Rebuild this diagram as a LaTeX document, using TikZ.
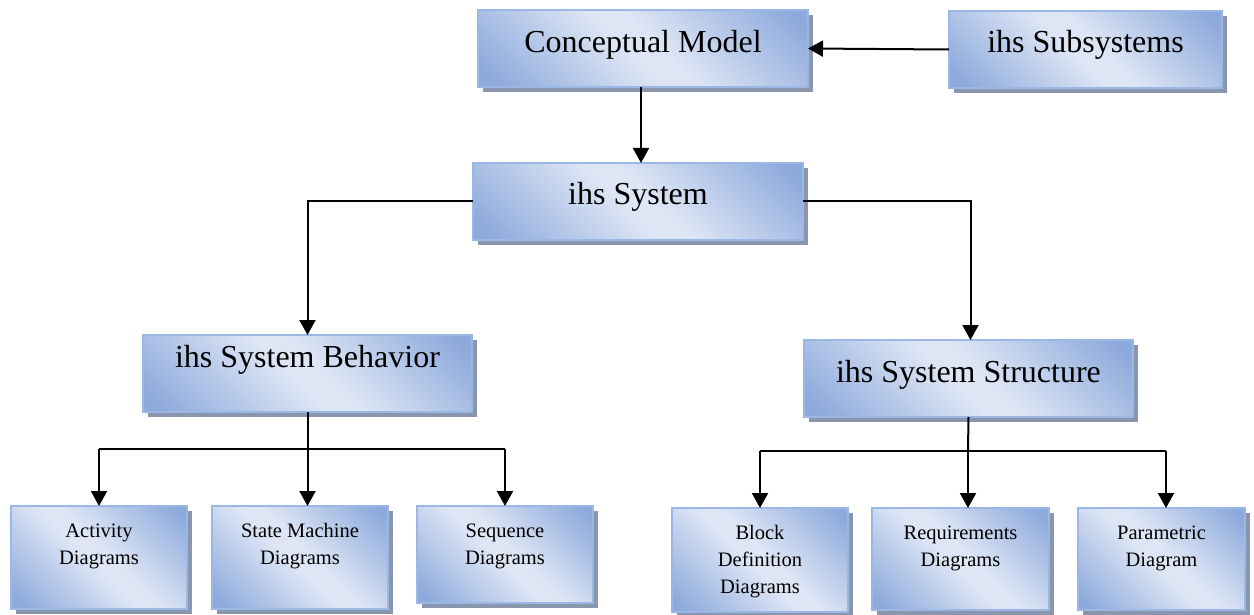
\documentclass[tikz,border=0pt]{standalone}
\usepackage{fontspec}
\setmainfont{Liberation Serif}
\usetikzlibrary{arrows.meta,shadows}

\definecolor{boxdark}{RGB}{141,170,220}
\definecolor{boxlight}{RGB}{222,230,245}
\definecolor{boxedge}{RGB}{155,184,228}
\definecolor{boxshadow}{RGB}{138,150,174}

% diagonal dark-light-dark fill of the blocks
\pgfdeclarehorizontalshading{boxshade}{100bp}{color(0bp)=(boxdark); color(18bp)=(boxdark); color(47bp)=(boxlight); color(53bp)=(boxlight); color(82bp)=(boxdark); color(100bp)=(boxdark)}

\newcommand\bigtxt{\fontsize{32}{38}\selectfont}
\newcommand\smalltxt{\fontsize{20.5}{27}\selectfont}
% width, height, first baseline from top, font, text
\newcommand\boxlabel[5]{\parbox[c][#2][t]{#1}{\centering#4\rule{0pt}{#3}#5\par}}

\tikzset{
  blk/.style={draw=boxedge, line width=1.2pt, shading=boxshade, shading angle=45,
    inner sep=0pt, outer sep=0pt,
    drop shadow={shadow xshift=5pt, shadow yshift=-5pt, fill=boxshadow, opacity=1}},
  conn/.style={line width=2pt, draw=black},
  arr/.style={conn, -{Triangle[width=16pt,length=15pt]}},
}

\begin{document}
\begin{tikzpicture}[x=1pt,y=-1pt]
\useasboundingbox (0,0) rectangle (1254,615);

% upper levels
\node[blk] (cm)  at (643,48.5)   {\boxlabel{330pt}{77pt}{43pt}{\bigtxt}{Conceptual Model}};
\node[blk] (sub) at (1085.5,49.5) {\boxlabel{273pt}{77pt}{42pt}{\bigtxt}{ihs Subsystems}};
\node[blk] (sys) at (638,201.5)  {\boxlabel{330pt}{77pt}{42pt}{\bigtxt}{ihs System}};
\node[blk] (beh) at (307.5,373.5) {\boxlabel{329pt}{77pt}{32pt}{\bigtxt}{ihs System Behavior}};
\node[blk] (str) at (968.5,378.5) {\boxlabel{329pt}{77pt}{42pt}{\bigtxt}{ihs System Structure}};

% diagram kinds
\node[blk] (act) at (99,557.5)   {\boxlabel{176pt}{103pt}{31pt}{\smalltxt}{Activity\\Diagrams}};
\node[blk] (stm) at (300,557.5)  {\boxlabel{176pt}{103pt}{31pt}{\smalltxt}{State Machine\\Diagrams}};
\node[blk] (seq) at (505,554.5)  {\boxlabel{176pt}{97pt}{31pt}{\smalltxt}{Sequence\\Diagrams}};
\node[blk] (bdd) at (760,560)    {\boxlabel{176pt}{104pt}{31pt}{\smalltxt}{Block\\Definition\\Diagrams}};
\node[blk] (req) at (960.5,559)  {\boxlabel{177pt}{102pt}{31pt}{\smalltxt}{Requirements\\Diagrams}};
\node[blk] (par) at (1161.5,559) {\boxlabel{167pt}{102pt}{31pt}{\smalltxt}{Parametric\\Diagram}};

% top connections
\draw[arr] (sub.west) -- (cm.east);
\draw[arr] ([xshift=-2pt]cm.south) -- ([xshift=-2pt]cm.south |- sys.north);
\draw[arr] (sys.west) -| (beh.north);
\draw[arr] (sys.east) -| ([xshift=2pt]str.north);

% behaviour branch
\coordinate (lb) at (307.5,449);
\draw[conn] (beh.south) -- (lb);
\draw[arr] (lb) -- (lb |- stm.north);
\draw[conn] (act.north |- lb) -- (seq.north |- lb);
\draw[arr] (act.north |- lb) -- (act.north);
\draw[arr] (seq.north |- lb) -- (seq.north);

% structure branch
\coordinate (rb) at (968,451);
\coordinate (pt) at ([xshift=4.5pt]par.north);
\draw[conn] (str.south) -- (rb);
\draw[arr] (rb) -- (rb |- req.north);
\draw[conn] (bdd.north |- rb) -- (pt |- rb);
\draw[arr] (bdd.north |- rb) -- (bdd.north);
\draw[arr] (pt |- rb) -- (pt);
\end{tikzpicture}
\end{document}
